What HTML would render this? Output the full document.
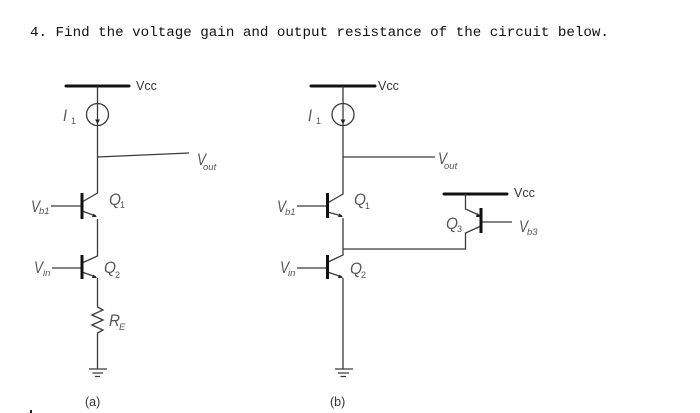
<!DOCTYPE html>
<html>
<head>
<meta charset="utf-8">
<style>
html,body{margin:0;padding:0;background:#fff;width:700px;height:413px;overflow:hidden}
svg{display:block;filter:blur(.3px)}
.w{stroke:#3a3a3a;stroke-width:1.3;fill:none}
.b{stroke:#111;stroke-width:3;fill:none}
.a{fill:#222}
text{font-family:"Liberation Sans",sans-serif;fill:#555}
.i{font-style:italic;font-size:17px}
.s{font-style:italic;font-size:9.500px}
.n{font-style:normal;font-size:9px}
.r{font-size:12.500px;fill:#333}
.t{font-family:"Liberation Mono",monospace;font-size:14.2px;fill:#111}
</style>
</head>
<body>
<svg width="700" height="413" viewBox="0 0 700 413" xmlns="http://www.w3.org/2000/svg">
<text class="t" x="30" y="36">4. Find the voltage gain and output resistance of the circuit below.</text>

<!-- Circuit (a) -->
<line class="b" x1="66" y1="86" x2="129" y2="86" stroke-linecap="round"/>
<text class="r" x="136" y="90">Vcc</text>
<circle class="w" cx="97.5" cy="114.500" r="11"/>
<path class="w" d="M97.5 86V193L82 202"/>
<path class="a" d="M95 119.500H100L97.500 124Z"/>
<path class="w" d="M97.500 157L189 153"/>
<path class="w" d="M51 206H82M82 211L96 216M97.500 219V256L82 263M52 268H82M82 272L96 277M97.500 278V307L103 310L92 315L103 320L92 325L103 330L97.500 333V369"/>
<path class="a" d="M97 217L92 217L93.500 213.500ZM97 278L92 278L93.500 274.500Z"/>
<line class="b" x1="82" y1="193" x2="82" y2="219"/>
<line class="b" x1="82" y1="255" x2="82" y2="279"/>
<path class="w" d="M89 369H107M92.500 373H103M95 376.500H100"/>
<text class="i" x="63" y="121" textLength="4" lengthAdjust="spacingAndGlyphs">I</text><text class="n" x="71" y="124">1</text>
<text class="i" x="197" y="165" textLength="9" lengthAdjust="spacingAndGlyphs">V</text><text class="s" x="203" y="170">out</text>
<text class="i" x="31" y="212" textLength="9" lengthAdjust="spacingAndGlyphs">V</text><text class="s" x="39" y="214">b1</text>
<text class="i" x="109" y="205" textLength="12" lengthAdjust="spacingAndGlyphs">Q</text><text class="n" x="120" y="208">1</text>
<text class="i" x="34" y="273" textLength="9" lengthAdjust="spacingAndGlyphs">V</text><text class="s" x="43" y="276">in</text>
<text class="i" x="104" y="273" textLength="12" lengthAdjust="spacingAndGlyphs">Q</text><text class="n" x="115" y="278">2</text>
<text class="i" x="109" y="326" textLength="11" lengthAdjust="spacingAndGlyphs">R</text><text class="s" x="119" y="330">E</text>
<text class="r" x="85" y="406">(a)</text>
<rect x="30" y="410" width="2" height="3" fill="#222"/>

<!-- Circuit (b) -->
<line class="b" x1="311" y1="86" x2="375" y2="86" stroke-linecap="round"/>
<text class="r" x="378" y="90">Vcc</text>
<circle class="w" cx="343" cy="114.500" r="11"/>
<path class="w" d="M343 86V194L327.500 203"/>
<path class="a" d="M340.500 119.500H345.500L343 124Z"/>
<path class="w" d="M343 157H435"/>
<path class="w" d="M297 206H327.500M327.500 212L342 216M343 218V255L328 262M297 268H327.500M327.500 272L342 277M343 278V369"/>
<path class="a" d="M343 217L338 217L339.500 213.500ZM343 278L338 278L339.500 274.500Z"/>
<line class="b" x1="327.500" y1="193" x2="327.500" y2="218"/>
<line class="b" x1="327.500" y1="255" x2="327.500" y2="279"/>
<path class="w" d="M335 369H353M338 373H349M340.500 376.500H346"/>
<path class="w" d="M343 249H465.500V233L481 226"/>
<text class="i" x="308" y="121" textLength="4" lengthAdjust="spacingAndGlyphs">I</text><text class="n" x="316" y="124">1</text>
<text class="i" x="438" y="164" textLength="9" lengthAdjust="spacingAndGlyphs">V</text><text class="s" x="444" y="169">out</text>
<text class="i" x="277" y="212" textLength="9" lengthAdjust="spacingAndGlyphs">V</text><text class="s" x="285" y="215">b1</text>
<text class="i" x="354" y="205" textLength="12" lengthAdjust="spacingAndGlyphs">Q</text><text class="n" x="365" y="209">1</text>
<text class="i" x="280" y="273" textLength="9" lengthAdjust="spacingAndGlyphs">V</text><text class="s" x="288" y="276">in</text>
<text class="i" x="350" y="274" textLength="12" lengthAdjust="spacingAndGlyphs">Q</text><text class="n" x="361" y="278">2</text>
<text class="r" x="330" y="406">(b)</text>

<!-- Q3 -->
<line class="b" x1="444" y1="194" x2="507" y2="194" stroke-linecap="round"/>
<text class="r" x="514" y="197">Vcc</text>
<path class="w" d="M465.500 194V209L481 216M481 222H512"/>
<path class="a" d="M481 217L476 217L477 213Z"/>
<line class="b" x1="481" y1="208" x2="481" y2="233"/>
<text class="i" x="446" y="229" textLength="12" lengthAdjust="spacingAndGlyphs">Q</text><text class="n" x="457" y="232">3</text>
<text class="i" x="519" y="232" textLength="9" lengthAdjust="spacingAndGlyphs">V</text><text class="s" x="527" y="235">b3</text>
</svg>
</body>
</html>
